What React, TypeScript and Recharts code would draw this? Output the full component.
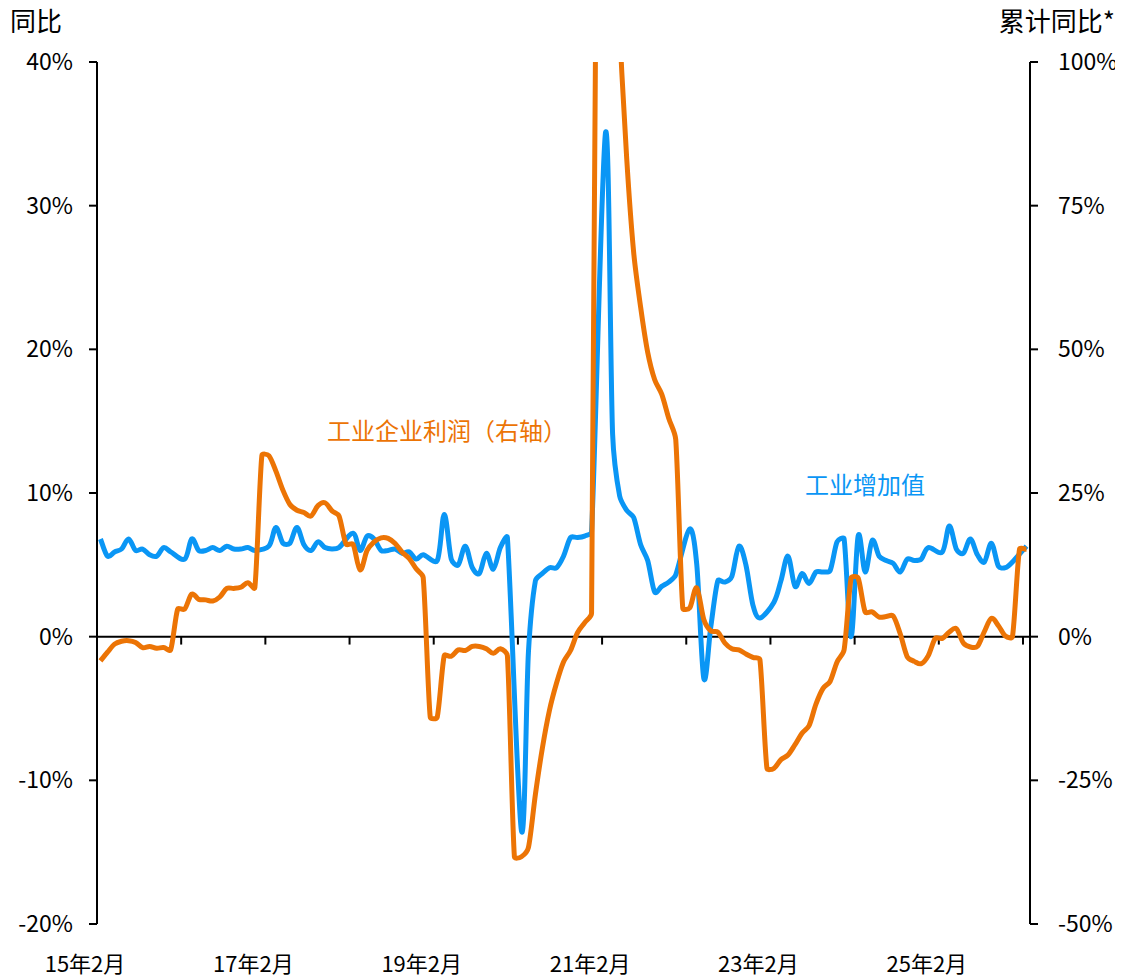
import { LineChart, Line, XAxis, YAxis, ReferenceLine } from "recharts";

const BLUE = "#0A96F5";
const ORANGE = "#EC7405";
const FONT = '"Noto Sans CJK SC", "Microsoft YaHei", sans-serif';

// months from 15年2月 to 26年2月 (133 points)
const months: string[] = [];
for (let i = 0; i < 133; i++) {
  const yy = 15 + Math.floor((i + 1) / 12);
  const m = ((i + 1) % 12) + 1;
  months.push(`${yy}年${m}月`);
}

// 工业增加值 同比 (%), one row per year, January has no own print
const valueAdded: (number | null)[] = [
  6.8, 5.6, 5.9, 6.1, 6.8, 6.0, 6.1, 5.7, 5.6, 6.2, 5.9, // 2015 Feb-Dec
  null, 5.4, 6.8, 6.0, 6.0, 6.2, 6.0, 6.3, 6.1, 6.1, 6.2, 6.0,
  null, 6.3, 7.6, 6.5, 6.5, 7.6, 6.4, 6.0, 6.6, 6.2, 6.1, 6.2,
  null, 7.2, 6.0, 7.0, 6.8, 6.0, 6.0, 6.1, 5.8, 5.9, 5.4, 5.7,
  null, 5.3, 8.5, 5.4, 5.0, 6.3, 4.8, 4.4, 5.8, 4.7, 6.2, 6.9,
  null, -13.5, -1.1, 3.9, 4.4, 4.8, 4.8, 5.6, 6.9, 6.9, 7.0, 7.3,
  null, 35.1, 14.1, 9.8, 8.8, 8.3, 6.4, 5.3, 3.1, 3.5, 3.8, 4.3,
  null, 7.5, 5.0, -2.9, 0.7, 3.9, 3.8, 4.2, 6.3, 5.0, 2.2, 1.3,
  null, 2.4, 3.9, 5.6, 3.5, 4.4, 3.7, 4.5, 4.5, 4.6, 6.6, 6.8,
  0, 7.0, 4.5, 6.7, 5.6, 5.3, 5.1, 4.5, 5.4, 5.3, 5.4, 6.2,
  null, 5.9, 7.7, 6.1, 5.8, 6.8, 5.7, 5.2, 6.5, 4.9, 4.8, 5.2,
  null, 6.3, // 2026 Jan-Feb
];

// 工业企业利润 累计同比 (%), right axis
const profits: number[] = [
  -4.2, -2.7, -1.3, -0.8, -0.7, -1.0, -1.9, -1.7, -2.0, -1.9, -2.3,
  4.8, 4.8, 7.4, 6.5, 6.4, 6.2, 6.9, 8.4, 8.4, 8.6, 9.4, 8.5,
  31.5, 31.5, 28.8, 25.5, 23.0, 22.0, 21.6, 21.0, 22.8, 23.3, 21.9, 21.0,
  16.1, 16.1, 11.6, 15.0, 16.5, 17.2, 17.1, 16.2, 14.7, 13.6, 11.8, 10.3,
  -14.0, -14.0, -3.3, -3.4, -2.3, -2.4, -1.7, -1.7, -2.1, -2.9, -2.1, -3.3,
  -38.3, -38.3, -36.7, -27.4, -19.3, -12.8, -8.1, -4.4, -2.4, 0.7, 2.4, 4.1,
  178.9, 178.9, 137.3, 106.0, 83.4, 66.9, 57.3, 49.5, 44.7, 42.2, 38.0, 34.3,
  5.0, 5.0, 8.5, 3.0, 1.0, 0.8, -1.1, -2.1, -2.3, -3.0, -3.6, -4.0,
  -22.9, -22.9, -21.4, -20.6, -18.8, -16.8, -15.5, -11.7, -9.0, -7.8, -4.4, -2.3,
  10.2, 10.2, 4.3, 4.3, 3.4, 3.5, 3.6, 0.5, -3.5, -4.3, -4.7, -3.3,
  -0.3, -0.3, 0.8, 1.4, -1.1, -1.8, -1.7, 0.9, 3.2, 1.9, 0.1, 0.0,
  15.2, 15.2,
];

const leftTicks = [-20, -10, 0, 10, 20, 30, 40];
const rightTicks = [-50, -25, 0, 25, 50, 75, 100];
const labelTicks = [-0.5, 23.5, 47.5, 71.5, 95.5, 119.5];
const yearMarks = [11.5, 23.5, 35.5, 47.5, 59.5, 71.5, 83.5, 95.5, 107.5, 119.5, 131.5];

const data = months.map((month, i) => ({
  idx: i,
  month,
  va: valueAdded[i],
  profit: profits[i],
}));

// Excel-like smoothing: Catmull-Rom handles, capped at a third of the segment
function smooth(context: any) {
  let pts: [number, number][] = [];
  const cap = (vx: number, vy: number, max: number) => {
    const len = Math.hypot(vx, vy);
    if (len <= max || len === 0) return [vx, vy];
    return [(vx / len) * max, (vy / len) * max];
  };
  return {
    areaStart() {},
    areaEnd() {},
    lineStart() {
      pts = [];
    },
    lineEnd() {
      const n = pts.length;
      if (!n) return;
      context.moveTo(pts[0][0], pts[0][1]);
      for (let i = 0; i < n - 1; i++) {
        const p0 = pts[Math.max(i - 1, 0)];
        const p1 = pts[i];
        const p2 = pts[i + 1];
        const p3 = pts[Math.min(i + 2, n - 1)];
        const seg = Math.hypot(p2[0] - p1[0], p2[1] - p1[1]) / 3;
        const a = cap((p2[0] - p0[0]) / 6, (p2[1] - p0[1]) / 6, seg);
        const b = cap((p3[0] - p1[0]) / 6, (p3[1] - p1[1]) / 6, seg);
        context.bezierCurveTo(
          p1[0] + a[0],
          p1[1] + a[1],
          p2[0] - b[0],
          p2[1] - b[1],
          p2[0],
          p2[1]
        );
      }
    },
    point(x: number, y: number) {
      pts.push([x, y]);
    },
  };
}

function MonthTick({ x, y, payload }: any) {
  return (
    <text
      x={x}
      y={y}
      dx={-12}
      dy={48}
      textAnchor="middle"
      fontSize={22}
      fontFamily={FONT}
      fill="#000"
    >
      {months[payload.value + 0.5]}
    </text>
  );
}

const axisStroke = { stroke: "#000", strokeWidth: 2 };
const tickFont = { fontSize: 23, fill: "#000", fontFamily: FONT };

export default function App() {
  return (
    <div
      style={{
        position: "relative",
        width: 1115,
        height: 970,
        fontFamily: FONT,
        background: "#fff",
      }}
    >
      <LineChart
        width={1115}
        height={970}
        data={data}
        margin={{ top: 54, right: 0, bottom: 14, left: 0 }}
      >
        <XAxis
          dataKey="idx"
          type="number"
          domain={[-0.5, 132.5]}
          ticks={labelTicks}
          interval={0}
          axisLine={false}
          tickLine={false}
          tickSize={0}
          tickMargin={0}
          height={40}
          tick={<MonthTick />}
        />
        <YAxis
          yAxisId="left"
          domain={[-20, 40]}
          ticks={leftTicks}
          interval={0}
          width={89}
          tickFormatter={(v) => `${v}%`}
          axisLine={axisStroke}
          tickLine={axisStroke}
          tickSize={8}
          tickMargin={16}
          tick={tickFont}
        />
        <YAxis
          yAxisId="right"
          orientation="right"
          domain={[-50, 100]}
          ticks={rightTicks}
          interval={0}
          allowDataOverflow
          width={93}
          tickFormatter={(v) => `${v}%`}
          axisLine={axisStroke}
          tickLine={axisStroke}
          tickSize={8}
          tickMargin={20}
          tick={tickFont}
        />
        <ReferenceLine yAxisId="left" y={0} stroke="#000" strokeWidth={2} />
        {yearMarks.map((m) => (
          <ReferenceLine
            key={m}
            yAxisId="left"
            segment={[
              { x: m, y: 0 },
              { x: m, y: -0.55 },
            ]}
            stroke="#000"
            strokeWidth={2}
          />
        ))}
        <Line
          yAxisId="left"
          dataKey="va"
          stroke={BLUE}
          strokeWidth={5}
          type={smooth as any}
          connectNulls
          dot={false}
          activeDot={false}
          isAnimationActive={false}
        />
        <Line
          yAxisId="right"
          dataKey="profit"
          stroke={ORANGE}
          strokeWidth={5}
          type={smooth as any}
          dot={false}
          activeDot={false}
          isAnimationActive={false}
        />
      </LineChart>
      <div style={{ position: "absolute", left: 2, top: -1, fontSize: 26, lineHeight: 1 }}>
        同比
      </div>
      <div style={{ position: "absolute", right: 8, top: -1, fontSize: 26, lineHeight: 1 }}>
        累计同比*
      </div>
      <div
        style={{
          position: "absolute",
          left: 319,
          top: 410,
          fontSize: 24,
          lineHeight: 1,
          color: ORANGE,
          whiteSpace: "nowrap",
        }}
      >
        工业企业利润（右轴）
      </div>
      <div
        style={{
          position: "absolute",
          left: 797,
          top: 464,
          fontSize: 24,
          lineHeight: 1,
          color: BLUE,
          whiteSpace: "nowrap",
        }}
      >
        工业增加值
      </div>
    </div>
  );
}
